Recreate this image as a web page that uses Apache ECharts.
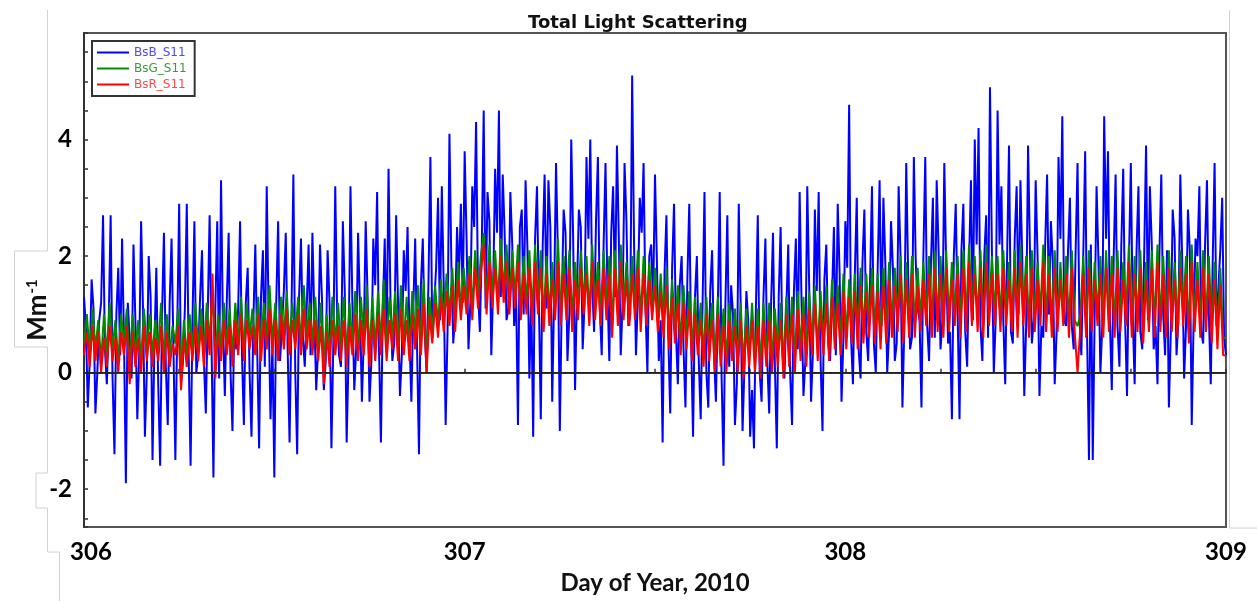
<!DOCTYPE html>
<html>
<head>
<meta charset="utf-8">
<style>
  html, body { margin: 0; background: #fff; }
  #chart { width: 1257px; height: 601px; }
</style>
</head>
<body>
<div id="chart"></div>
<script src="https://cdn.jsdelivr.net/npm/echarts@6.0.0/dist/echarts.min.js"></script>
<script>
// regular sampling from day 306: blue peaks every 0.01 day with mid readings
// half a step later, green and red every 0.0075 day
var dayStart = 306;
var stepB = 0.01;
var stepGR = 0.0075;

var bsBPeaks = [
  1.3, -0.6, 1.6, -0.7, 0.9, 2.7, -0.2, 2.7, -1.4, 1.8,
  2.3, -1.9, 0.6, 2.2, -0.8, 2.6, -1.1, 2.0, -1.5, 1.8,
  -1.6, 2.4, -0.9, 2.3, -1.5, 2.9, 0.2, 2.9, -1.6, 2.6,
  0.3, 2.1, -0.7, 2.7, -1.8, 2.6, 3.3, -0.4, 2.4, -1.0,
  0.4, 2.6, -0.9, 1.8, -1.1, 2.2, -1.3, 2.1, 3.2, -0.8,
  -1.8, 2.6, 0.2, 2.4, -1.2, 3.4, -1.4, 2.3, 0.1, 2.2,
  2.4, -0.3, 2.2, -0.3, 2.1, -1.3, 3.2, 0.3, 2.6, -1.2,
  3.2, -0.3, 2.4, -0.5, 2.6, -0.5, 2.3, 3.1, -1.2, 2.3,
  3.5, 0.2, 2.7, -0.4, 2.1, 2.5, -0.5, 2.3, -1.4, 2.3,
  0.0, 3.7, 0.6, 3.0, 3.2, -0.9, 4.1, 0.5, 2.5, 2.9,
  3.8, 0.4, 3.2, 4.3, 0.7, 4.5, 3.1, 0.3, 3.5, 4.5,
  3.4, 0.9, 3.1, 0.8, -0.9, 2.8, 3.3, -0.1, -1.1, 3.2,
  -0.8, 3.4, 3.3, -0.5, 3.6, -1.0, 2.8, 0.2, 4.0, -0.3,
  2.8, 0.4, 3.7, 4.0, 0.7, 3.7, 0.3, 3.6, 0.2, 3.2,
  3.9, 0.3, 3.6, 0.8, 5.1, 0.3, 3.0, 3.6, 0.0, 2.2,
  3.4, 0.2, -1.2, 2.7, -0.7, 2.9, -0.2, 2.0, -0.6, 2.9,
  -1.1, 2.0, -0.8, 3.1, -0.6, 2.1, -0.5, 3.1, -1.6, 2.7,
  1.5, -0.9, 2.9, -1.0, 1.4, -1.1, -1.3, 2.7, -0.5, 2.3,
  -0.7, 2.4, -1.3, 2.5, -0.1, 2.2, -0.9, 2.3, 3.1, -0.4,
  3.2, -0.5, 2.8, 3.1, -1.0, 2.2, 0.2, 2.5, 2.9, -0.5,
  2.6, 4.6, -0.2, 3.0, -0.1, 2.8, 0.2, 3.2, 0.0, 3.3,
  3.0, 0.0, 2.6, 0.2, 3.2, -0.6, 3.6, 0.4, 3.7, 1.1,
  -0.6, 3.7, 0.2, 3.0, 3.3, 0.4, 3.6, 0.5, -0.8, 2.9,
  -0.8, 2.9, 0.1, 3.3, 4.0, 4.2, 0.2, 2.7, 4.9, 0.0,
  4.5, 3.2, -0.2, 3.9, 0.5, 3.2, 3.3, -0.4, 3.9, 0.5,
  3.3, -0.4, 0.6, 3.4, 2.6, -0.2, 3.7, 4.4, 0.8, 3.0,
  0.4, 3.6, 0.3, 3.8, -1.5, -1.5, 3.2, 0.0, 4.4, 3.8,
  -0.3, 3.4, 0.1, 3.5, -0.4, 3.6, -0.2, 3.2, 0.4, 3.9,
  3.2, 0.4, -0.2, 3.4, 0.3, -0.6, 2.8, 0.3, 3.4, -0.1,
  2.8, -0.9, 2.3, 3.2, 0.5, 3.3, -0.2, 3.6, 0.8, 3.0,
  0.3
];

var bsBMids = [
  0.8, 0.2, 1.1, 0.0, 1.2, 0.4, 0.9, -0.1, 1.0, 0.3,
  0.6, 1.2, -0.1, 0.9, 0.3, 1.1, 0.0, 1.3, 0.5, -0.2,
  1.0, 0.1, 1.2, 0.4, 0.8, -0.2, 1.1, 0.3, 0.9, 0.0,
  1.3, 0.2, 1.0, 0.5, 1.1, -0.1, 0.8, 1.2, 0.0, 0.9,
  1.1, 0.3, 1.2, 0.0, 0.9, 0.4, 1.3, 0.1, 1.0, 0.5,
  1.2, 0.2, 1.4, 0.4, 1.0, 0.0, 1.3, 0.6, 1.1, 0.3,
  1.0, 0.4, 1.3, 0.2, 1.2, 0.5, 1.0, 0.1, 1.4, 0.3,
  1.2, 0.4, 1.1, 0.6, 1.3, 0.2, 1.5, 0.4, 1.1, 0.5,
  1.3, 0.5, 1.2, 0.3, 1.4, 0.6, 1.1, 0.4, 1.5, 0.7,
  1.6, 0.6, 1.8, 0.9, 1.5, 0.7, 1.9, 1.0, 1.6, 1.2,
  2.3, 1.2, 2.5, 1.4, 2.2, 1.1, 2.6, 1.5, 2.4, 1.3,
  2.4, 1.1, 2.2, 1.4, 2.5, 1.0, 2.1, 1.3, 2.3, 1.2,
  2.2, 1.1, 2.5, 1.3, 2.0, 1.2, 2.4, 1.0, 2.3, 1.4,
  2.5, 1.2, 2.3, 1.5, 2.6, 1.1, 2.2, 1.4, 2.4, 1.3,
  2.3, 1.2, 2.6, 1.0, 2.2, 1.3, 2.4, 1.1, 2.0, 1.2,
  1.9, 0.9, 1.7, 0.6, 1.8, 0.7, 1.5, 0.4, 1.6, 0.5,
  1.3, 0.2, 1.2, 0.0, 1.4, 0.3, 1.1, -0.1, 1.2, 0.1,
  1.0, -0.2, 1.2, 0.1, 0.9, -0.3, 1.1, 0.0, 1.3, 0.2,
  1.2, 0.1, 1.3, 0.3, 1.1, 0.0, 1.4, 0.4, 1.2, 0.2,
  1.5, 0.4, 1.4, 0.2, 1.6, 0.5, 1.3, 0.3, 1.7, 0.6,
  1.8, 0.6, 1.7, 0.4, 1.9, 0.7, 1.6, 0.5, 1.8, 0.8,
  1.9, 0.7, 1.8, 0.5, 2.0, 0.8, 1.7, 0.6, 1.9, 0.9,
  2.0, 0.8, 1.9, 0.6, 2.1, 0.9, 1.8, 0.7, 2.0, 1.0,
  2.1, 0.7, 1.9, 0.9, 2.2, 0.8, 2.0, 0.6, 2.1, 0.9,
  2.2, 0.9, 2.0, 0.7, 2.3, 1.0, 1.9, 0.8, 2.1, 0.9,
  2.0, 0.8, 2.2, 1.0, 1.9, 0.7, 2.3, 0.9, 2.1, 0.8,
  2.1, 0.9, 2.0, 0.7, 2.2, 1.0, 1.9, 0.8, 2.3, 0.9,
  2.0, 0.8, 2.2, 0.9, 1.9, 1.0, 2.1, 0.7, 2.0, 0.9,
  2.2, 0.8, 2.0, 1.0, 2.1, 0.7, 2.3, 0.9, 1.9, 0.8,
  2.1, 0.9, 2.0, 0.7, 2.2, 1.0, 1.9, 0.8, 2.1, 0.6
];

var bsG = [
  0.5, 1.0, 0.3, 1.1, 0.4, 0.9, 0.2, 1.0, 0.3, 1.2, 0.4, 0.9, 0.2, 1.0, 0.5, 1.1, 0.0, 1.0, 0.3, 0.9,
  0.2, 1.1, 0.4, 1.0, 0.3, 0.9, 0.4, 1.2, 0.2, 1.0, 0.3, 0.8, 0.5, 1.1, 0.0, 0.9, 0.3, 1.0, 0.4, 1.2,
  0.4, 1.1, 0.3, 1.2, 0.5, 1.4, 0.2, 1.0, 0.4, 1.2, 0.5, 1.1, 0.3, 1.2, 0.5, 1.3, 0.4, 1.2, 0.6, 1.1,
  0.5, 1.3, 0.4, 1.2, 0.6, 1.5, 0.5, 1.2, 0.4, 1.3, 0.6, 1.4, 0.5, 1.2, 0.6, 1.3, 0.5, 1.5, 0.6, 1.2,
  0.5, 1.3, 0.4, 1.2, 0.1, 1.0, 0.3, 1.3, 0.5, 1.2, 0.4, 1.3, 0.3, 1.2, 0.5, 1.4, 0.4, 1.3, 0.5, 1.5,
  0.3, 1.3, 0.4, 1.4, 0.5, 1.6, 0.4, 1.3, 0.6, 1.4, 0.4, 1.5, 0.5, 1.3, 0.4, 1.4, 0.6, 1.5, 0.5, 1.6,
  0.2, 1.3, 0.7, 1.5, 0.8, 1.6, 0.9, 1.7, 1.0, 1.8, 0.9, 1.9, 1.1, 1.8, 1.2, 2.0, 1.1, 2.1, 1.3, 2.0,
  2.4, 1.2, 2.2, 1.3, 2.1, 1.2, 2.3, 1.4, 2.2, 1.2, 2.1, 1.3, 2.2, 1.1, 2.0, 1.2, 2.1, 1.0, 2.2, 1.2,
  2.1, 0.9, 2.0, 1.0, 1.9, 1.1, 2.3, 1.0, 2.0, 1.1, 2.1, 0.9, 1.9, 1.1, 2.1, 1.2, 2.0, 1.0, 2.2, 1.1,
  1.9, 1.0, 2.1, 1.1, 2.0, 0.8, 2.1, 1.0, 2.2, 1.1, 1.9, 1.0, 2.0, 1.1, 2.1, 0.9, 2.0, 1.0, 1.9, 1.1,
  1.8, 0.9, 1.7, 0.8, 1.8, 0.6, 1.6, 0.7, 1.5, 0.5, 1.5, 0.6, 1.4, 0.4, 1.3, 0.5, 1.2, 0.3, 1.3, 0.4,
  1.2, 0.2, 1.3, 0.3, 1.1, 0.2, 1.2, 0.4, 1.1, 0.2, 1.2, 0.1, 1.1, 0.3, 1.2, 0.2, 1.1, 0.1, 1.2, 0.3,
  1.2, 0.2, 1.1, 0.3, 1.2, 0.1, 1.3, 0.3, 1.3, 0.2, 1.4, 0.4, 1.3, 0.3, 1.4, 0.5, 1.5, 0.4, 1.4, 0.5,
  1.5, 0.4, 1.6, 0.6, 1.5, 0.5, 1.7, 0.6, 1.6, 0.7, 1.7, 0.6, 1.8, 0.7, 1.7, 0.8, 1.8, 0.7, 1.7, 0.6,
  1.8, 0.7, 1.9, 0.8, 1.8, 0.9, 2.0, 0.7, 1.9, 0.8, 2.0, 0.8, 1.8, 0.9, 1.9, 1.0, 2.0, 0.8, 2.1, 0.9,
  2.0, 0.8, 2.1, 0.9, 1.9, 1.0, 2.0, 0.8, 2.1, 0.9, 2.2, 1.0, 2.0, 0.9, 2.1, 0.8, 2.2, 1.0, 2.0, 1.0,
  2.0, 0.9, 2.1, 1.0, 1.9, 0.9, 2.1, 0.8, 2.2, 1.0, 2.0, 0.8, 2.1, 0.9, 1.9, 1.0, 2.2, 0.9, 2.0, 0.8,
  2.1, 0.9, 1.9, 1.0, 2.0, 0.8, 2.1, 0.9, 0.8, 1.0, 2.0, 0.8, 2.1, 0.9, 1.9, 1.0, 2.0, 0.8, 2.1, 0.9,
  2.0, 0.8, 2.1, 0.9, 1.9, 1.0, 2.2, 0.8, 2.0, 0.9, 2.1, 0.7, 1.9, 0.9, 2.1, 0.8, 2.2, 0.9, 2.0, 0.8,
  2.1, 0.9, 1.9, 0.8, 2.1, 1.0, 2.0, 0.7, 2.2, 0.9, 1.9, 0.8, 2.1, 0.9, 2.0, 0.7, 1.9, 0.6, 1.8, 0.6,
  0.6
];

var bsR = [
  0.3, 0.7, 0.1, 0.8, 0.2, 0.7, 0.0, 0.6, 0.1, 0.8, 0.2, 0.6, 0.0, 0.7, 0.3, 0.8, -0.2, 0.7, 0.1, 0.6,
  0.0, 0.8, 0.2, 0.7, 0.1, 0.6, 0.2, 0.8, 0.0, 0.7, 0.1, 0.5, 0.3, 0.8, -0.3, 0.6, 0.1, 0.7, 0.2, 0.8,
  0.2, 0.8, 0.1, 0.9, 0.3, 1.7, -0.1, 0.7, 0.2, 0.9, 0.3, 0.8, 0.1, 0.9, 0.3, 1.0, 0.2, 0.9, 0.4, 0.8,
  0.3, 1.0, 0.2, 0.9, 0.4, 1.1, 0.3, 0.9, 0.2, 1.0, 0.4, 1.1, 0.3, 0.9, 0.4, 1.0, 0.3, 1.1, 0.4, 0.9,
  0.3, 0.9, 0.2, 0.8, -0.2, 0.7, 0.1, 0.9, 0.3, 0.8, 0.2, 0.9, 0.1, 0.8, 0.3, 1.0, 0.2, 0.9, 0.3, 1.1,
  0.1, 0.9, 0.2, 1.0, 0.3, 1.1, 0.2, 0.9, 0.4, 1.0, 0.2, 1.1, 0.3, 0.9, 0.2, 1.0, 0.4, 1.1, 0.3, 1.2,
  0.0, 1.0, 0.5, 1.2, 0.6, 1.3, 0.7, 1.4, 0.8, 1.5, 0.7, 1.6, 0.9, 1.5, 1.0, 1.7, 0.9, 1.8, 1.1, 1.7,
  2.2, 1.0, 1.9, 1.1, 1.8, 1.0, 2.0, 1.2, 1.9, 1.0, 1.8, 1.1, 1.9, 0.9, 1.7, 1.0, 1.8, 0.8, 1.9, 1.0,
  1.8, 0.7, 1.7, 0.8, 1.6, 0.9, 1.9, 0.8, 1.7, 0.9, 1.8, 0.7, 1.6, 0.9, 1.8, 1.0, 1.7, 0.8, 1.9, 0.9,
  1.6, 0.8, 1.8, 0.9, 1.7, 0.6, 1.8, 0.8, 1.9, 0.9, 1.6, 0.8, 1.7, 0.9, 1.8, 0.7, 1.7, 0.8, 1.6, 0.9,
  1.5, 0.7, 1.4, 0.6, 1.5, 0.4, 1.3, 0.5, 1.2, 0.3, 1.2, 0.4, 1.1, 0.2, 1.0, 0.3, 0.9, 0.1, 1.0, 0.2,
  0.9, 0.0, 1.0, 0.1, 0.8, 0.0, 0.9, 0.2, 0.8, 0.0, 0.9, -0.1, 0.8, 0.1, 0.9, 0.0, 0.8, -0.1, 0.9, 0.1,
  0.9, 0.0, 0.8, 0.1, 0.9, -0.1, 1.0, 0.1, 1.0, 0.0, 1.1, 0.2, 1.0, 0.1, 1.1, 0.3, 1.2, 0.2, 1.1, 0.3,
  1.2, 0.2, 1.3, 0.4, 1.2, 0.3, 1.4, 0.4, 1.3, 0.5, 1.4, 0.4, 1.5, 0.5, 1.4, 0.6, 1.5, 0.5, 1.4, 0.4,
  1.5, 0.5, 1.6, 0.6, 1.5, 0.7, 1.7, 0.5, 1.6, 0.6, 1.7, 0.6, 1.5, 0.7, 1.6, 0.8, 1.7, 0.6, 1.8, 0.7,
  1.7, 0.6, 1.8, 0.7, 1.6, 0.8, 1.7, 0.6, 1.8, 0.7, 1.9, 0.8, 1.7, 0.7, 1.8, 0.6, 1.9, 0.8, 1.7, 0.8,
  1.7, 0.7, 1.8, 0.8, 1.6, 0.7, 1.8, 0.6, 1.9, 0.8, 1.7, 0.6, 1.8, 0.7, 1.6, 0.8, 1.9, 0.7, 1.7, 0.6,
  1.8, 0.7, 1.6, 0.8, 1.7, 0.6, 1.8, 0.7, 0.0, 0.8, 1.7, 0.6, 1.8, 0.7, 1.6, 0.8, 1.7, 0.6, 1.8, 0.7,
  1.7, 0.6, 1.8, 0.7, 1.6, 0.8, 1.9, 0.6, 1.7, 0.7, 1.8, 0.5, 1.6, 0.7, 1.8, 0.6, 1.9, 0.7, 1.7, 0.6,
  1.8, 0.7, 1.6, 0.6, 1.8, 0.8, 1.7, 0.5, 1.9, 0.7, 1.6, 0.6, 1.8, 0.7, 1.7, 0.5, 1.6, 0.4, 1.5, 0.3,
  0.3
];

var xLabels = [306, 307, 308, 309];
var yLabels = [-2, 0, 2, 4];

function day(t) { return Math.round(t * 100000) / 100000; }

function toPairs(vals, step, offset) {
  return vals.map(function (v, i) { return [day(dayStart + offset + i * step), v]; });
}

// blue: peaks and mid readings merged in time order
var bsBData = toPairs(bsBPeaks, stepB, 0)
  .concat(toPairs(bsBMids, stepB, stepB / 2))
  .sort(function (a, b) { return a[0] - b[0]; });

var labelFont = { fontFamily: 'Lato', fontWeight: 'bold', fontSize: 24, color: '#000' };

var chart = echarts.init(document.getElementById('chart'), null, { renderer: 'canvas' });

var option = {
  animation: false,
  backgroundColor: '#fff',
  title: {
    text: 'Total Light Scattering',
    left: 523, top: 9,
    textStyle: { fontFamily: 'DejaVu Sans', fontWeight: 'bold', fontSize: 18, color: '#111' }
  },
  legend: {
    orient: 'vertical',
    left: 92, top: 41,
    padding: [5, 8, 5, 5],
    backgroundColor: '#fff',
    borderColor: '#333', borderWidth: 2, borderRadius: 0,
    icon: 'rect', itemWidth: 32, itemHeight: 2, itemGap: 3,
    textStyle: { fontFamily: 'DejaVu Sans', fontSize: 12, lineHeight: 13 },
    data: [
      { name: 'BsB_S11', textStyle: { color: '#4a4aff' } },
      { name: 'BsG_S11', textStyle: { color: '#3c9c3c' } },
      { name: 'BsR_S11', textStyle: { color: '#ff4a4a' } }
    ]
  },
  grid: {
    left: 84, right: 31, top: 33, bottom: 74,
    show: true, borderColor: '#555', borderWidth: 2,
    containLabel: false, outerBoundsMode: 'none'
  },
  xAxis: {
    type: 'value', min: 306, max: 309, interval: 0.25,
    axisLine: { lineStyle: { color: '#333', width: 2 } },
    axisTick: { show: true, inside: true, length: 4, lineStyle: { color: '#333', width: 1.5 } },
    splitLine: { show: false },
    axisLabel: {
      show: true, margin: 13, showMinLabel: true, showMaxLabel: true,
      fontFamily: labelFont.fontFamily, fontWeight: labelFont.fontWeight,
      fontSize: labelFont.fontSize, color: labelFont.color,
      formatter: function (v) {
        var r = Math.round(v * 1000) / 1000;
        if (xLabels.indexOf(r) < 0) return '';
        return r === 306 ? '{first|306}' : String(r);
      },
      rich: {
        first: {
          fontFamily: labelFont.fontFamily, fontWeight: labelFont.fontWeight,
          fontSize: labelFont.fontSize, color: labelFont.color, padding: [0, 0, 0, 14]
        }
      }
    },
    name: 'Day of Year, 2010',
    nameLocation: 'middle', nameGap: 44,
    nameTextStyle: { fontFamily: 'Lato', fontWeight: 'bold', fontSize: 24, color: '#111' }
  },
  yAxis: {
    type: 'value', min: -2.65, max: 5.83,
    splitNumber: 17, minInterval: 0.5, maxInterval: 0.5,
    axisLine: { show: true, lineStyle: { color: '#333', width: 2 } },
    axisTick: { show: true, inside: true, length: 4, lineStyle: { color: '#333', width: 1.5 } },
    splitLine: { show: false },
    axisLabel: {
      show: true, margin: 12,
      fontFamily: labelFont.fontFamily, fontWeight: labelFont.fontWeight,
      fontSize: labelFont.fontSize, color: labelFont.color,
      formatter: function (v) {
        var r = Math.round(v * 1000) / 1000;
        return yLabels.indexOf(r) >= 0 ? String(r) : '';
      }
    }
  },
  series: [
    {
      name: 'BsB_S11', type: 'line', data: bsBData,
      showSymbol: false, symbol: 'none', silent: true,
      lineStyle: { color: '#0000ff', width: 2 }, itemStyle: { color: '#0000ff' },
      emphasis: { disabled: true }
    },
    {
      name: 'BsG_S11', type: 'line', data: toPairs(bsG, stepGR, 0),
      showSymbol: false, symbol: 'none', silent: true,
      lineStyle: { color: '#008a00', width: 2 }, itemStyle: { color: '#008a00' },
      emphasis: { disabled: true }
    },
    {
      name: 'BsR_S11', type: 'line', data: toPairs(bsR, stepGR, 0),
      showSymbol: false, symbol: 'none', silent: true,
      lineStyle: { color: '#ff0000', width: 2 }, itemStyle: { color: '#ff0000' },
      emphasis: { disabled: true },
      markLine: {
        silent: true, symbol: 'none', animation: false,
        label: { show: false },
        lineStyle: { color: '#222', width: 1.2, type: 'solid' },
        data: [{ yAxis: 0 }]
      }
    }
  ],
  graphic: [
    {
      type: 'text', silent: true,
      x: 38, y: 310, rotation: Math.PI / 2,
      style: {
        text: '{a|Mm}{b|-1}',
        align: 'center', verticalAlign: 'middle',
        rich: {
          a: { fontFamily: 'Lato', fontWeight: 'bold', fontSize: 26, fill: '#111', lineHeight: 30 },
          b: { fontFamily: 'Lato', fontWeight: 'bold', fontSize: 15, fill: '#111', lineHeight: 30, padding: [0, 0, 12, 1] }
        }
      }
    },
    {
      type: 'polyline', silent: true,
      shape: { points: [[47.5, 10], [47.5, 251], [14.5, 251], [14.5, 347], [47.5, 347], [47.5, 473], [36, 473], [36, 508], [47.5, 508], [47.5, 552], [59.5, 552], [59.5, 601]] },
      style: { stroke: '#d2d2d2', fill: null, lineWidth: 1 }
    },
    {
      type: 'polyline', silent: true,
      shape: { points: [[1229.5, 10], [1229.5, 528], [1257, 528]] },
      style: { stroke: '#d2d2d2', fill: null, lineWidth: 1 }
    }
  ]
};

chart.setOption(option);
</script>
</body>
</html>
